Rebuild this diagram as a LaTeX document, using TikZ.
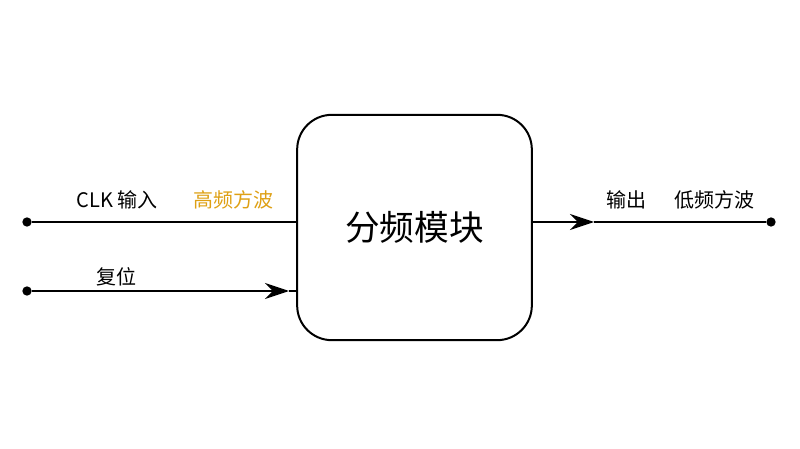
\documentclass[tikz,border=0pt]{standalone}
\usepackage{fontspec}
\setmainfont{Noto Sans CJK SC}
\usetikzlibrary{arrows.meta,positioning}
\tikzset{
  >={Stealth[length=18pt,width=12pt]},
  blok/.style={
    rectangle,
    rounded corners=26pt,
    draw=black, line width=1.5pt,
    minimum width=176pt,
    minimum height=169pt,
    font=\fontsize{26}{30}\selectfont},
  line/.style={draw, line width=1.3pt},
  punkt/.style={circle, fill=black, inner sep=0pt, minimum size=7pt},
  lbl/.style={font=\fontsize{15}{18}\selectfont, inner sep=0pt},
}
\begin{document}
\begin{tikzpicture}[x=0.75pt,y=-0.75pt]
  \useasboundingbox (0,0) rectangle (800,449);
  \node[blok] (blk) at (414.5,227.5) {分频模块};
  % inputs
  \node[punkt] (clk) at (27,222) {};
  \node[punkt] (rst) at (27,291) {};
  \node[punkt] (out) at (771,222) {};
  \coordinate (rsttip) at (289,291);
  \coordinate (outtip) at (594,222);
  \draw[line] (clk) -- (clk -| blk.west);
  \draw[line, ->] (rst) -- (rsttip);
  \draw[line] (rsttip) -- (rst -| blk.west);
  \draw[line, ->] (out -| blk.east) -- (outtip);
  \draw[line] (outtip) -- (out);
  % labels
  \node[lbl] (clklbl) at (117,200) {CLK 输入};
  \node[lbl, text={rgb,255:red,222;green,160;blue,20}] (hf) at (233,200) {高频方波};
  \node[lbl] (rstlbl) at (116,277) {复位};
  \node[lbl] (outlbl) at (626,200) {输出};
  \node[lbl] (lf) at (714,200) {低频方波};
\end{tikzpicture}
\end{document}
